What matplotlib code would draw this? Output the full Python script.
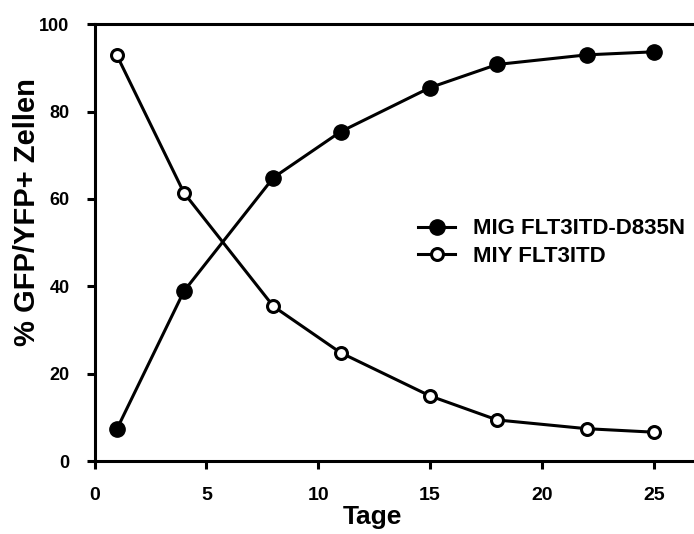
import matplotlib
matplotlib.use("Agg")
import matplotlib.pyplot as plt

days = [1, 4, 8, 11, 15, 18, 22, 25]
mig = [7.3, 38.9, 64.9, 75.4, 85.5, 90.8, 93.0, 93.7]
miy = [92.9, 61.4, 35.4, 24.8, 14.9, 9.4, 7.4, 6.6]
labels = ["MIG FLT3ITD-D835N", "MIY FLT3ITD"]
xticks = [0, 5, 10, 15, 20, 25]
yticks = [0, 20, 40, 60, 80, 100]

plt.rcParams['font.family'] = ['Liberation Sans', 'DejaVu Sans']
plt.rcParams['font.weight'] = 'bold'

fig = plt.figure(figsize=(6.94, 5.34), dpi=100)
ax = fig.add_axes([94.5/694, 73/534, 599.5/694, 436.7/534])

ax.plot(days, mig, color='black', lw=2.2, marker='o', ms=11, mfc='black', mec='black',
        label=labels[0])
ax.plot(days, miy, color='black', lw=2.2, marker='o', ms=8.6, mfc='white', mec='black',
        mew=2.2, label=labels[1])

ax.set_xlim(0, 26.8)
ax.set_ylim(0, 100)
ax.set_xticks(xticks)
ax.set_yticks(yticks)
for s in ['left', 'bottom', 'top']:
    ax.spines[s].set_linewidth(2.2)
ax.spines['right'].set_visible(False)
ax.tick_params(direction='out', length=6, width=2.2)
ax.tick_params(axis='x', pad=13, labelsize=14)
ax.tick_params(axis='y', pad=12, labelsize=13)
for t in ax.get_xticklabels() + ax.get_yticklabels():
    t.set_fontweight('bold')

ax.set_xlabel('Tage', fontsize=19, fontweight='bold')
ax.xaxis.set_label_coords(0.463, -0.1)
ax.set_ylabel('% GFP/YFP+ Zellen', fontsize=21, fontweight='bold')
ax.yaxis.set_label_coords(-0.09, 0.569)

leg = ax.legend(loc='center left', bbox_to_anchor=(0.539, 0.5), frameon=False,
                prop={'size': 16, 'weight': 'bold'}, handlelength=1.7,
                handletextpad=0.8, labelspacing=0.3, borderaxespad=0, borderpad=0)

fig.savefig('out.png', dpi=100)
